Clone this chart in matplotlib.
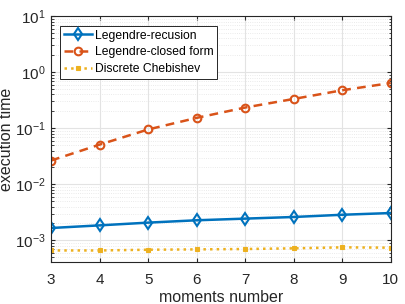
import matplotlib
matplotlib.use('Agg')
import matplotlib.pyplot as plt
import numpy as np

moments = [3, 4, 5, 6, 7, 8, 9, 10]
legendre_rec = [1.66e-3, 1.85e-3, 2.07e-3, 2.28e-3, 2.44e-3, 2.61e-3, 2.86e-3, 3.07e-3]
legendre_closed = [0.0265, 0.051, 0.095, 0.153, 0.234, 0.333, 0.476, 0.64]
chebishev = [6.6e-4, 6.6e-4, 6.8e-4, 6.9e-4, 7.0e-4, 7.2e-4, 7.5e-4, 7.4e-4]

plt.rcParams['font.family'] = ['Liberation Sans', 'DejaVu Sans']
plt.rcParams['mathtext.fontset'] = 'custom'
plt.rcParams['mathtext.rm'] = 'Liberation Sans'

fig = plt.figure(figsize=(4.05, 3.04), dpi=100)
ax = fig.add_axes([0.126, 0.138, 0.839, 0.809])

ax.plot(moments, legendre_rec, '-', color='#0072BD', lw=1.8, marker='d', ms=6,
        mfc='none', mew=1.5, label='Legendre-recusion')
ax.plot(moments, legendre_closed, '--', color='#D95319', lw=1.8, marker='o', ms=5.5,
        mfc='none', mew=1.5, label='Legendre-closed form', dashes=(3.5, 2.5))
ax.plot(moments, chebishev, ':', color='#EDB120', lw=1.8, marker='s', ms=3.5,
        mfc='#EDB120', mew=0.8, label='Discrete Chebishev')

ax.set_yscale('log')
ax.set_xlim(3, 10)
ax.set_ylim(4.1e-4, 10)
ax.set_xticks(moments)
ax.set_yticks([1e-3, 1e-2, 1e-1, 1e0, 1e1])

ax.grid(True, which='major', color='#e3e3e3', lw=0.8, ls='-')
ax.grid(True, which='minor', color='#e3e3e3', lw=0.6, ls=':')
ax.set_axisbelow(True)
for s in ax.spines.values():
    s.set_color('#262626')
    s.set_linewidth(0.8)
ax.tick_params(which='both', direction='in', top=True, right=True, colors='#262626',
               labelsize=11, length=3)
ax.tick_params(which='minor', length=1.8)
ax.tick_params(axis='x', pad=8)
ax.tick_params(axis='y', pad=4)

ax.set_xlabel('moments number', fontsize=11.5, color='#262626')
ax.set_ylabel('execution time', fontsize=11.5, color='#262626')
ax.xaxis.set_label_coords(0.5, -0.115)
ax.yaxis.set_label_coords(-0.108, 0.5)

leg = ax.legend(loc='upper left', bbox_to_anchor=(0.027, 0.96), fontsize=8.7,
                frameon=True, fancybox=False, edgecolor='#262626', framealpha=1,
                borderpad=0.3, labelspacing=0.4, handlelength=2.3, handletextpad=0.3,
                borderaxespad=0)
leg.get_frame().set_linewidth(0.7)

plt.savefig('out.png', dpi=100)
